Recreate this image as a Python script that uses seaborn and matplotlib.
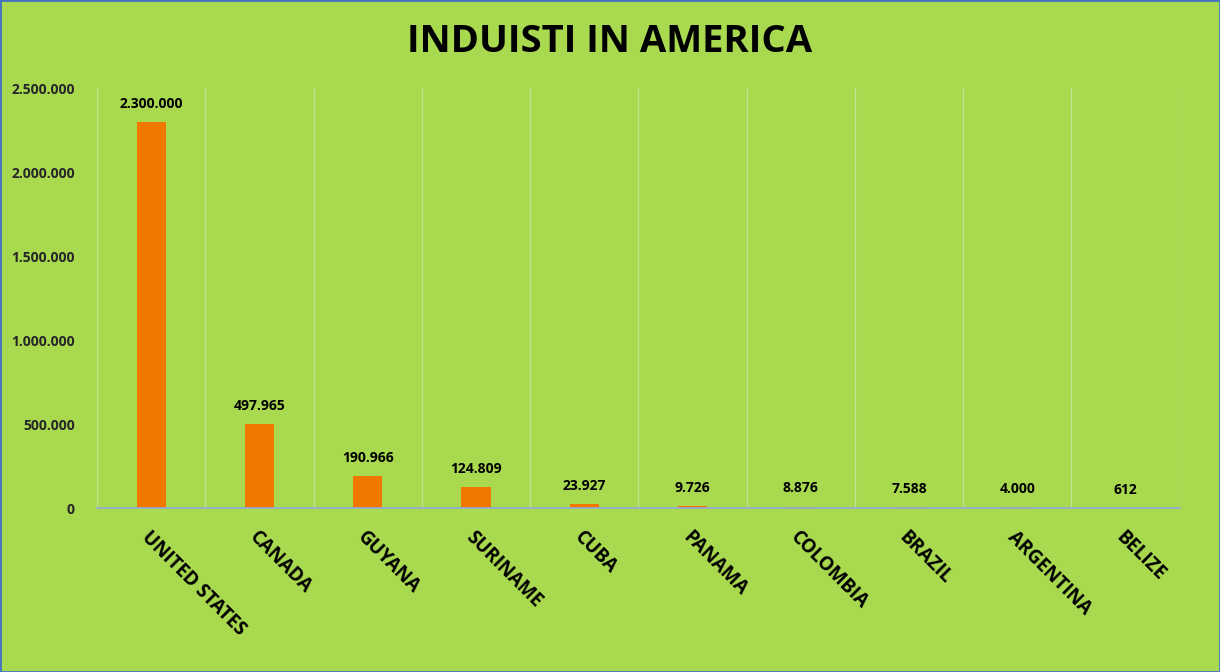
import matplotlib
matplotlib.use('Agg')
import matplotlib.pyplot as plt
import matplotlib.ticker as mticker
import seaborn as sns
import pandas as pd

# ----------------------------
# Data
# ----------------------------
countries = ['UNITED STATES', 'CANADA', 'GUYANA', 'SURINAME', 'CUBA',
             'PANAMA', 'COLOMBIA', 'BRAZIL', 'ARGENTINA', 'BELIZE']
values = [2300000, 497965, 190966, 124809, 23927, 9726, 8876, 7588, 4000, 612]
y_ticks = [0, 500000, 1000000, 1500000, 2000000, 2500000]

df = pd.DataFrame({'Country': countries, 'Value': values})

bg = '#A9D94F'
bar_color = '#F07800'


def dot_fmt(v):
    return f"{int(round(v)):,}".replace(',', '.')


# ----------------------------
# Plot
# ----------------------------
sns.set_theme(style='white')
plt.rcParams['font.family'] = ['Open Sans', 'DejaVu Sans']

fig = plt.figure(figsize=(12.2, 6.72), dpi=100, facecolor=bg)
ax = fig.add_axes([0.0795, 0.244, 0.8875, 0.625])
ax.set_facecolor(bg)

sns.barplot(x='Country', y='Value', data=df, color=bar_color,
            width=0.27, saturation=1, linewidth=0, ax=ax)

ax.set_ylim(0, 2500000)
ax.set_xlim(-0.5, len(countries) - 0.5)
ax.set_yticks(y_ticks)
ax.yaxis.set_major_formatter(mticker.FuncFormatter(lambda v, p: dot_fmt(v)))
ax.set_xlabel('')
ax.set_ylabel('')

# vertical separators between categories
for i in range(len(countries) + 1):
    ax.axvline(i - 0.5, color='#C6E393', lw=1, zorder=0)

for s in ['top', 'right', 'left']:
    ax.spines[s].set_visible(False)
ax.spines['bottom'].set_color('#8FAADC')
ax.spines['bottom'].set_linewidth(1.2)

ax.tick_params(axis='y', length=0, pad=16, labelsize=10)
ax.tick_params(axis='x', length=0, pad=14)
for lbl in ax.get_yticklabels():
    lbl.set_fontweight('bold')

ax.set_xticks(range(len(countries)))
ax.set_xticklabels(countries, rotation=-45, ha='left', rotation_mode='anchor',
                   fontsize=13.5, fontweight='bold', color='black')

# data labels
for i, v in enumerate(values):
    ax.annotate(dot_fmt(v), (i, v), xytext=(0, 8), textcoords='offset points',
                ha='center', va='bottom', fontsize=10, fontweight='bold',
                color='black')

fig.text(0.5, 0.937, 'INDUISTI IN AMERICA', ha='center', va='center',
         fontsize=27.5, fontweight='bold', color='black')

# figure border
fig.patches.append(plt.Rectangle((0, 0), 1, 1, transform=fig.transFigure,
                                 fill=False, edgecolor='#4472C4', lw=2))

fig.savefig('out.png', dpi=100, facecolor=bg)
